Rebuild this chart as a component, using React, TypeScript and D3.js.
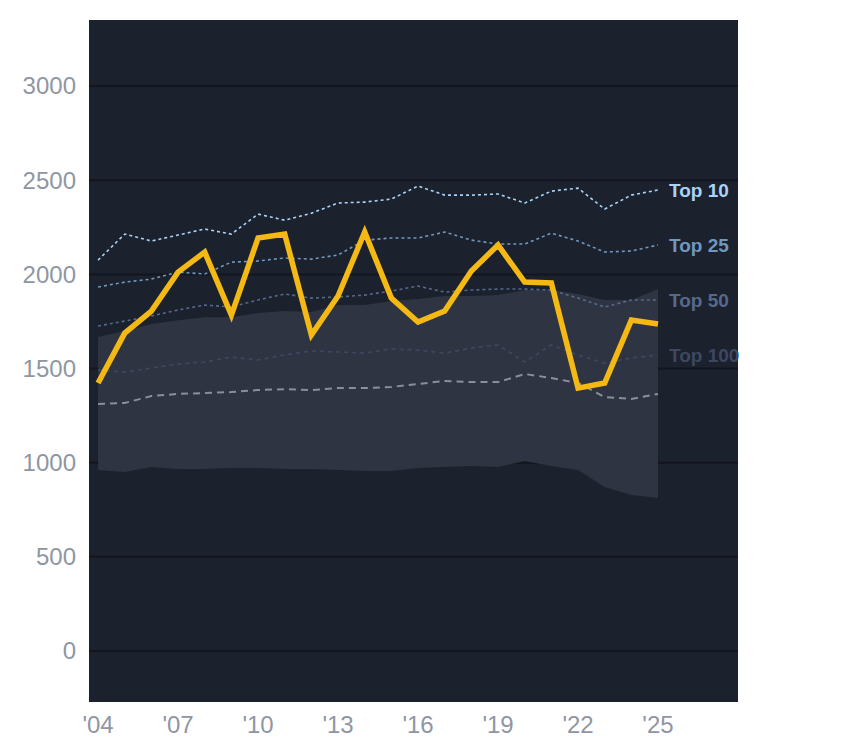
import React from 'react';
import * as d3 from 'd3';

const years = d3.range(2004, 2026);
const player = [1423, 1688, 1805, 2012, 2118, 1784, 2193, 2214, 1678, 1885, 2225, 1874, 1747, 1805, 2018, 2156, 1959, 1954, 1396, 1423, 1757, 1736];
const top10 = [2076, 2214, 2177, 2209, 2241, 2214, 2320, 2288, 2325, 2379, 2384, 2400, 2469, 2421, 2421, 2427, 2379, 2442, 2458, 2347, 2421, 2448];
const top25 = [1933, 1959, 1975, 2012, 2002, 2065, 2071, 2087, 2081, 2103, 2182, 2193, 2193, 2225, 2182, 2161, 2161, 2219, 2177, 2119, 2124, 2156];
const top50 = [1726, 1752, 1779, 1811, 1837, 1827, 1864, 1896, 1874, 1880, 1890, 1912, 1938, 1906, 1917, 1922, 1922, 1917, 1874, 1827, 1864, 1864];
const top100 = [1492, 1481, 1503, 1524, 1535, 1561, 1545, 1572, 1593, 1588, 1582, 1604, 1598, 1582, 1609, 1625, 1535, 1625, 1572, 1529, 1556, 1572];
const median = [1312, 1317, 1354, 1365, 1370, 1375, 1386, 1390, 1386, 1396, 1396, 1402, 1418, 1434, 1428, 1428, 1471, 1450, 1423, 1349, 1338, 1365];
const bandHigh = [1667, 1699, 1736, 1757, 1773, 1773, 1795, 1805, 1800, 1837, 1837, 1858, 1869, 1885, 1885, 1890, 1917, 1917, 1896, 1864, 1864, 1922];
const bandLow = [961, 950, 977, 966, 966, 972, 972, 966, 966, 961, 956, 956, 972, 977, 982, 977, 1009, 982, 961, 871, 828, 812];
const yTicks = [0, 500, 1000, 1500, 2000, 2500, 3000];
const xTicks = [2004, 2007, 2010, 2013, 2016, 2019, 2022, 2025];

const refs = [
  { label: 'Top 10', data: top10, color: '#a9d3f5', dash: '3,3', w: 1.6 },
  { label: 'Top 25', data: top25, color: '#6f98bf', dash: '3,3', w: 1.6 },
  { label: 'Top 50', data: top50, color: '#56698a', dash: '3,3', w: 1.6 },
  { label: 'Top 100', data: top100, color: '#3d4860', dash: '4,4', w: 1.6 },
];

const App: React.FC = () => {
  const left = 89, right = 738, top = 20, bottom = 702;
  const x = d3.scaleLinear().domain([2003.66, 2028.0]).range([left, right]);
  const y = d3.scaleLinear().domain([-271, 3351]).range([bottom, top]);
  const line = d3.line<number>().x((d, i) => x(years[i])).y(d => y(d));
  const area = d3.area<number>().x((d, i) => x(years[i])).y0((d, i) => y(bandLow[i])).y1(d => y(d));
  const font = 'Arial, "Liberation Sans", sans-serif';

  return (
    <svg width={844} height={748} style={{ position: 'absolute', left: 0, top: 0 }} fontFamily={font}>
      <rect x={0} y={0} width={844} height={748} fill="#fff" />
      <rect x={left} y={top} width={right - left} height={bottom - top} fill="#1c212e" />
      {yTicks.map(t => (
        <g key={t}>
          <line x1={left} x2={right} y1={y(t)} y2={y(t)} stroke="#13161f" strokeWidth={2} />
          <text x={76} y={y(t)} dy="0.35em" textAnchor="end" fontSize={24} fill="#8f96a3">{t}</text>
        </g>
      ))}
      {xTicks.map(t => (
        <text key={t} x={x(t)} y={733} textAnchor="middle" fontSize={24} fill="#8f96a3">{"'" + String(t).slice(2)}</text>
      ))}
      <path d={area(bandHigh) ?? ''} fill="#2f3442" />
      <path d={line(median) ?? ''} fill="none" stroke="#8a8f99" strokeWidth={2} strokeDasharray="7,5" />
      {refs.map(r => (
        <g key={r.label}>
          <path d={line(r.data) ?? ''} fill="none" stroke={r.color} strokeWidth={r.w} strokeDasharray={r.dash} />
          <text x={669} y={y(r.data[r.data.length - 1])} dy="0.35em" fontSize={19} fontWeight="bold" fill={r.color}>{r.label}</text>
        </g>
      ))}
      <path d={line(player) ?? ''} fill="none" stroke="#f5b914" strokeWidth={5.5} strokeLinejoin="miter" />
    </svg>
  );
};

export default App;
